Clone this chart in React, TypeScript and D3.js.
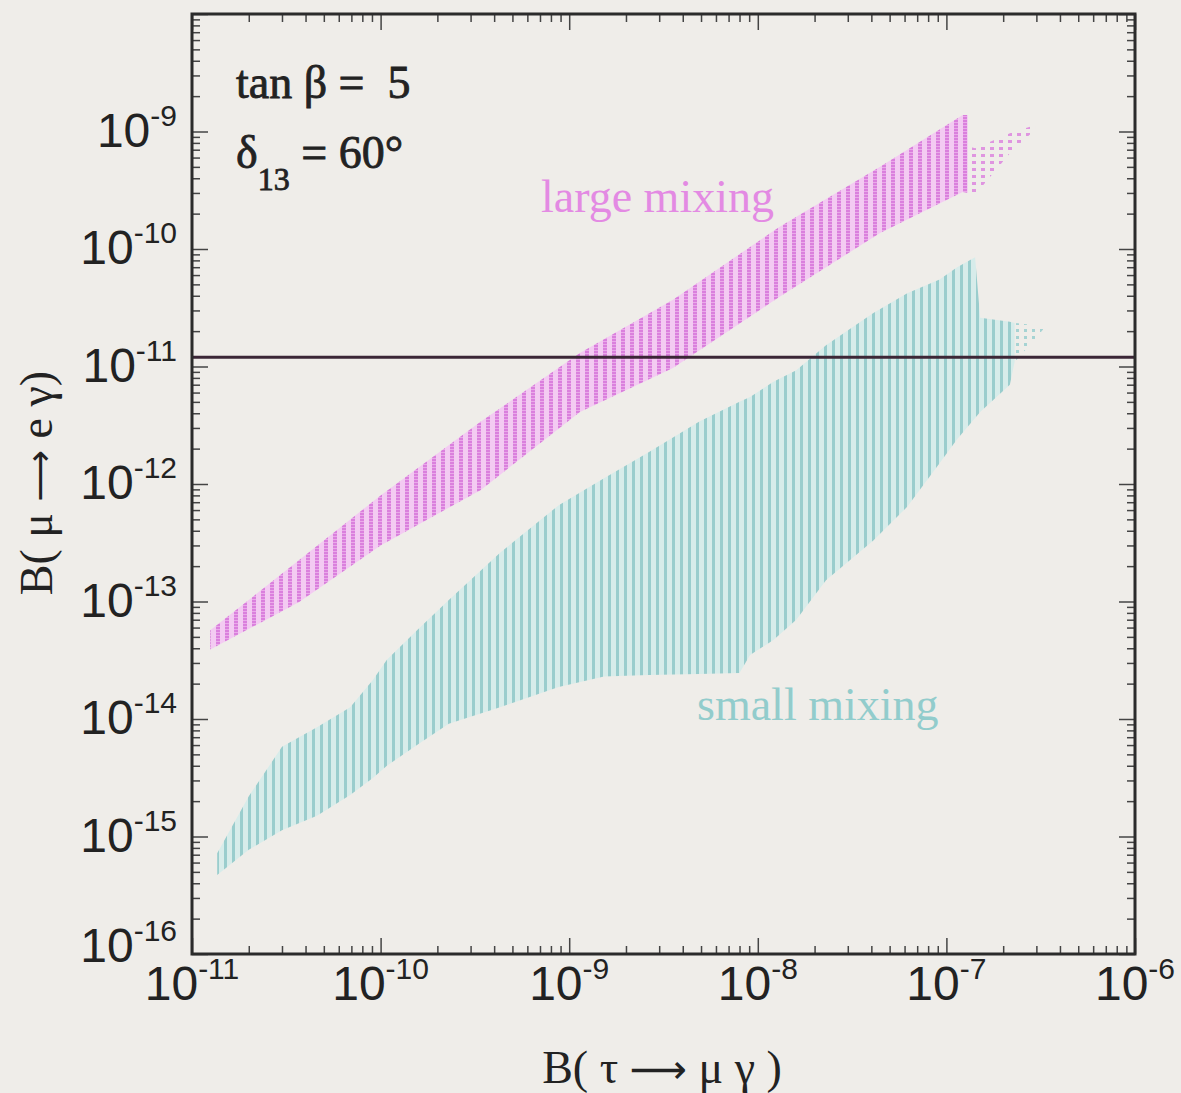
import React, { useRef, useEffect } from "react";
import * as d3 from "d3";

// large mixing band: B(tau -> mu gamma) and the upper / lower edge of B(mu -> e gamma)
const largeX = [1.25e-11, 3.7e-11, 1.0e-10, 3.4e-10, 1.14e-9, 3.55e-9, 1.3e-8, 4.45e-8, 1.22e-7, 1.3e-7];
const largeHi = [5.7e-14, 2.25e-13, 8.0e-13, 3.4e-12, 1.3e-11, 3.7e-11, 1.54e-10, 5.0e-10, 1.38e-9, 1.38e-9];
const largeLo = [3.9e-14, 9.9e-14, 3.0e-13, 8.9e-13, 4.1e-12, 9.7e-12, 3.9e-11, 1.37e-10, 3.05e-10, 3.0e-10];
// sparse points past the end of the band
const largeTailX = [1.3e-7, 1.42e-7, 2.25e-7, 2.95e-7];
const largeTailHi = [7.5e-10, 7.2e-10, 9.9e-10, 1.13e-9];
const largeTailLo = [3.0e-10, 2.9e-10, 7.0e-10, 1.03e-9];

// small mixing band
const smallX = [1.36e-11, 2.0e-11, 3.0e-11, 4.6e-11, 6.9e-11, 9.1e-11, 1.08e-10, 1.56e-10, 2.3e-10, 4.3e-10, 8.8e-10, 1.53e-9, 2.65e-9, 4.9e-9, 8.0e-9, 9.1e-9, 1.21e-8, 1.6e-8, 2.3e-8, 4.1e-8, 6.2e-8, 9.2e-8, 1.14e-7, 1.42e-7, 1.51e-7, 2.17e-7, 2.3e-7];
const smallHi = [7.2e-16, 2.2e-15, 5.8e-15, 8.5e-15, 1.26e-14, 2.15e-14, 3.2e-14, 5.7e-14, 1.03e-13, 2.6e-13, 6.6e-13, 1.12e-12, 1.87e-12, 3.4e-12, 5.0e-12, 5.5e-12, 7.4e-12, 9.3e-12, 1.52e-11, 2.85e-11, 4.2e-11, 5.5e-11, 7.0e-11, 8.5e-11, 2.6e-11, 2.4e-11, 2.35e-11];
const smallLo = [4.7e-16, 7.7e-16, 1.13e-15, 1.5e-15, 2.25e-15, 3.15e-15, 4.0e-15, 6.0e-15, 9.1e-15, 1.26e-14, 1.87e-14, 2.3e-14, 2.37e-14, 2.42e-14, 2.46e-14, 3.5e-14, 4.7e-14, 7.0e-14, 1.52e-13, 3.3e-13, 6.4e-13, 1.5e-12, 2.4e-12, 3.65e-12, 4.1e-12, 7.0e-12, 1.09e-11];
const smallTailX = [2.3e-7, 3.25e-7];
const smallTailHi = [2.35e-11, 2.2e-11];
const smallTailLo = [1.09e-11, 2.05e-11];

const xExps = [-11, -10, -9, -8, -7, -6];
const yExps = [-16, -15, -14, -13, -12, -11, -10, -9];
const megaBound = 1.2e-11;

const minorTicks = (exps: number[]) =>
  exps.slice(0, -1).flatMap((e) => d3.range(2, 10).map((k) => k * Math.pow(10, e)));

const rows = (xs: number[], lo: number[], hi: number[]) =>
  xs.map((v, i) => ({ x: v, lo: lo[i], hi: hi[i] }));

const Chart = () => {
  const svgRef = useRef<SVGSVGElement>(null);

  useEffect(() => {
    const width = 1181;
    const height = 1093;
    const margin = { top: 14, right: 46, bottom: 139, left: 192 };
    const bottomY = height - margin.bottom;
    const rightX = width - margin.right;

    const svg = d3.select(svgRef.current).attr("width", width).attr("height", height);
    svg.selectAll("*").remove();

    svg.append("rect").attr("width", width).attr("height", height).attr("fill", "#efede9");

    const x = d3.scaleLog().domain([1e-11, 1e-6]).range([margin.left, rightX]);
    const y = d3.scaleLog().domain([1e-16, 1e-8]).range([bottomY, margin.top]);

    const defs = svg.append("defs");
    defs
      .append("clipPath")
      .attr("id", "plotClip")
      .append("rect")
      .attr("x", margin.left)
      .attr("y", margin.top)
      .attr("width", rightX - margin.left)
      .attr("height", bottomY - margin.top);

    // vertical hatching like the scan columns
    const mag = defs
      .append("pattern")
      .attr("id", "magHatch")
      .attr("patternUnits", "userSpaceOnUse")
      .attr("width", 9)
      .attr("height", 3);
    mag.append("rect").attr("width", 9).attr("height", 3).attr("fill", "#f3cbf2");
    mag.append("rect").attr("width", 4).attr("height", 3).attr("fill", "#da80dd");
    mag.append("rect").attr("y", 2).attr("width", 4).attr("height", 1).attr("fill", "#eaaaea");

    const magDots = defs
      .append("pattern")
      .attr("id", "magDots")
      .attr("patternUnits", "userSpaceOnUse")
      .attr("width", 9)
      .attr("height", 7);
    magDots.append("rect").attr("width", 4).attr("height", 3).attr("fill", "#df95e0");

    const cyan = defs
      .append("pattern")
      .attr("id", "cyanHatch")
      .attr("patternUnits", "userSpaceOnUse")
      .attr("width", 8)
      .attr("height", 8);
    cyan.append("rect").attr("width", 8).attr("height", 8).attr("fill", "#d7ecea");
    cyan.append("rect").attr("width", 3).attr("height", 8).attr("fill", "#9acdcd");

    const cyanDots = defs
      .append("pattern")
      .attr("id", "cyanDots")
      .attr("patternUnits", "userSpaceOnUse")
      .attr("width", 8)
      .attr("height", 7);
    cyanDots.append("rect").attr("width", 3).attr("height", 3).attr("fill", "#a6d3d3");

    const plot = svg.append("g").attr("clip-path", "url(#plotClip)");

    const band = d3
      .area<{ x: number; lo: number; hi: number }>()
      .x((d) => x(d.x))
      .y0((d) => y(d.lo))
      .y1((d) => y(d.hi));

    plot.append("path").datum(rows(smallX, smallLo, smallHi)).attr("d", band).attr("fill", "url(#cyanHatch)");
    plot.append("path").datum(rows(smallTailX, smallTailLo, smallTailHi)).attr("d", band).attr("fill", "url(#cyanDots)");
    plot.append("path").datum(rows(largeX, largeLo, largeHi)).attr("d", band).attr("fill", "url(#magHatch)");
    plot.append("path").datum(rows(largeTailX, largeTailLo, largeTailHi)).attr("d", band).attr("fill", "url(#magDots)");

    // experimental bound
    plot
      .append("line")
      .attr("x1", margin.left)
      .attr("x2", rightX)
      .attr("y1", y(megaBound))
      .attr("y2", y(megaBound))
      .attr("stroke", "#3b2636")
      .attr("stroke-width", 3);

    // ticks on all four sides, pointing in
    const xMajor = xExps.map((e) => Math.pow(10, e));
    const yMajor = yExps.map((e) => Math.pow(10, e)).concat([1e-8]);
    const xMinor = minorTicks(xExps);
    const yMinor = minorTicks(yExps.concat([-8]));

    const addAxis = (axis: any, tx: number, ty: number) => {
      const g = svg.append("g").attr("transform", `translate(${tx},${ty})`).call(axis);
      g.select(".domain").remove();
      g.selectAll("line").attr("stroke", "#444").attr("stroke-width", 1.5);
    };
    const sides: [any, number, number, any][] = [
      [d3.axisBottom, 0, bottomY, x],
      [d3.axisTop, 0, margin.top, x],
      [d3.axisLeft, margin.left, 0, y],
      [d3.axisRight, rightX, 0, y],
    ];
    sides.forEach(([mk, tx, ty, sc]) => {
      const isX = sc === x;
      addAxis(mk(sc).tickValues(isX ? xMajor : yMajor).tickSize(-16).tickFormat(() => ""), tx, ty);
      addAxis(mk(sc).tickValues(isX ? xMinor : yMinor).tickSize(-8).tickFormat(() => ""), tx, ty);
    });

    svg
      .append("rect")
      .attr("x", margin.left)
      .attr("y", margin.top)
      .attr("width", rightX - margin.left)
      .attr("height", bottomY - margin.top)
      .attr("fill", "none")
      .attr("stroke", "#2b2b2b")
      .attr("stroke-width", 3);

    // tick labels 10^n
    const sans = "'Liberation Sans', Arial, sans-serif";
    const powerLabel = (t: any, e: number) => {
      t.append("tspan").text("10");
      t.append("tspan").attr("dy", -21).attr("font-size", 30).text(`-${-e}`);
    };
    xExps.forEach((e) => {
      const t = svg
        .append("text")
        .attr("x", x(Math.pow(10, e)))
        .attr("y", 1000)
        .attr("text-anchor", "middle")
        .attr("font-family", sans)
        .attr("font-size", 48)
        .attr("fill", "#222");
      powerLabel(t, e);
    });
    yExps.forEach((e) => {
      const t = svg
        .append("text")
        .attr("x", 177)
        .attr("y", y(Math.pow(10, e)) + (e === -16 ? 8 : 15))
        .attr("text-anchor", "end")
        .attr("font-family", sans)
        .attr("font-size", 48)
        .attr("fill", "#222");
      powerLabel(t, e);
    });

    const serif = "'Liberation Serif', 'Times New Roman', serif";
    const arrowFont = "'DejaVu Sans', sans-serif";

    const xTitle = svg
      .append("text")
      .attr("x", 662)
      .attr("y", 1083)
      .attr("text-anchor", "middle")
      .attr("font-family", serif)
      .attr("font-size", 46)
      .attr("fill", "#222")
      .style("white-space", "pre");
    xTitle.append("tspan").text("B( τ ");
    xTitle.append("tspan").attr("font-family", arrowFont).attr("font-size", 40).text("⟶");
    xTitle.append("tspan").text(" μ γ )");

    const yTitle = svg
      .append("text")
      .attr("transform", `translate(52,483) rotate(-90)`)
      .attr("text-anchor", "middle")
      .attr("font-family", serif)
      .attr("font-size", 46)
      .attr("fill", "#222")
      .style("white-space", "pre");
    yTitle.append("tspan").text("B( μ ");
    yTitle.append("tspan").attr("font-family", arrowFont).attr("font-size", 36).text("⟶");
    yTitle.append("tspan").text(" e γ)");

    // parameter annotations
    svg
      .append("text")
      .attr("x", 236)
      .attr("y", 98)
      .attr("font-family", serif)
      .attr("font-size", 46)
      .attr("fill", "#222")
      .attr("stroke", "#222")
      .attr("stroke-width", 0.8)
      .style("white-space", "pre")
      .text("tan β =  5");

    const delta = svg
      .append("text")
      .attr("x", 236)
      .attr("y", 168)
      .attr("font-family", serif)
      .attr("font-size", 46)
      .attr("fill", "#222")
      .attr("stroke", "#222")
      .attr("stroke-width", 0.8)
      .style("white-space", "pre");
    delta.append("tspan").text("δ");
    delta.append("tspan").attr("dy", 22).attr("font-size", 32).text("13");
    delta.append("tspan").attr("dy", -22).text(" = 60°");

    svg
      .append("text")
      .attr("x", 541)
      .attr("y", 212)
      .attr("font-family", serif)
      .attr("font-size", 46)
      .attr("fill", "#e38ae3")
      .text("large mixing");

    svg
      .append("text")
      .attr("x", 697)
      .attr("y", 720)
      .attr("font-family", serif)
      .attr("font-size", 46)
      .attr("fill", "#92cccc")
      .text("small mixing");
  }, []);

  return <svg ref={svgRef} style={{ position: "absolute", left: 0, top: 0 }}></svg>;
};

export default function App() {
  return <Chart />;
}
